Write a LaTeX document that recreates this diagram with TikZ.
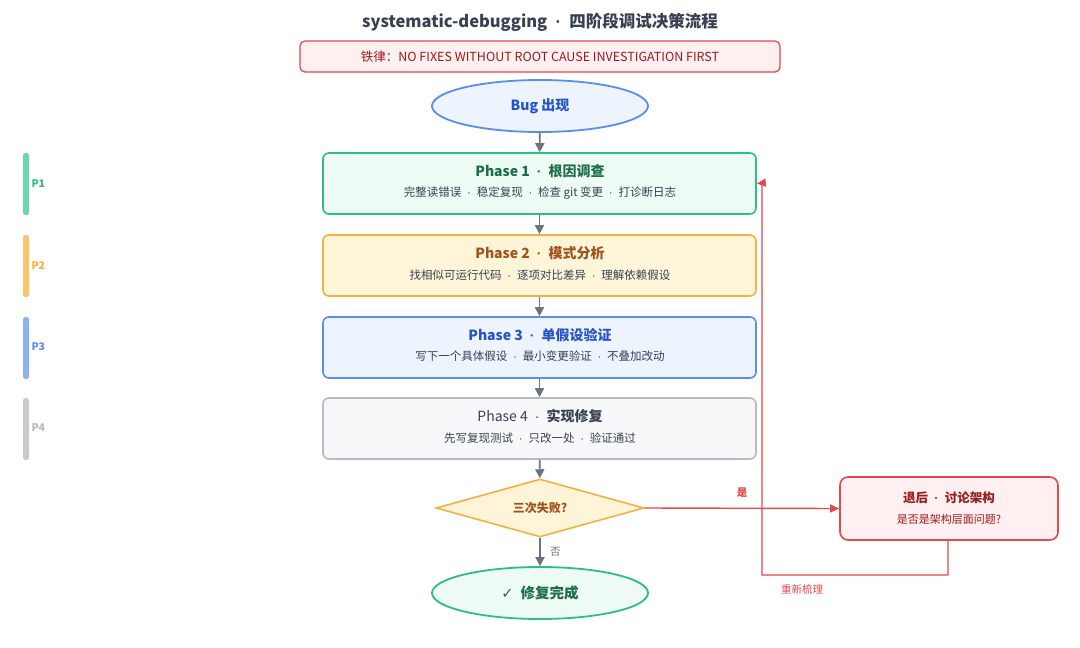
\documentclass[tikz,border=0pt]{standalone}
\usepackage{fontspec}
\setmainfont{Noto Sans CJK SC}
\newfontfamily\latf{Liberation Sans}
\newcommand{\md}{{\latf\enspace·\enspace}}
\usetikzlibrary{shapes.geometric,arrows.meta}
\definecolor{gborder}{HTML}{2EBD85}\definecolor{gfill}{HTML}{EEFBF4}\definecolor{gtext}{HTML}{1B6E4A}
\definecolor{oborder}{HTML}{F5B041}\definecolor{ofill}{HTML}{FEF5D9}\definecolor{otext}{HTML}{A0521B}
\definecolor{bborder}{HTML}{5B8DEF}\definecolor{bfill}{HTML}{EEF4FE}\definecolor{btext}{HTML}{2553C9}
\definecolor{kborder}{HTML}{B8BBC2}\definecolor{kfill}{HTML}{F8F8FA}\definecolor{ktext}{HTML}{374151}
\definecolor{rborder}{HTML}{E5484D}\definecolor{rfill}{HTML}{FEEFF0}\definecolor{rtext}{HTML}{9B1C1C}
\definecolor{gbar}{HTML}{6DD6AA}\definecolor{obar}{HTML}{F9C470}\definecolor{bbar}{HTML}{8AB0F5}\definecolor{kbar}{HTML}{C8CACE}
\definecolor{arr}{HTML}{6B7280}
\begin{document}
\begin{tikzpicture}[x=1pt,y=-1pt,
  phase/.style={draw=#1border,fill=#1fill,line width=1.6pt,rounded corners=6pt,minimum width=433pt,minimum height=61pt},
  ttl/.style={font=\fontsize{14}{16}\selectfont\bfseries},
  sub/.style={font=\fontsize{11.5}{14}\selectfont,text=ktext},
  ar/.style={draw=arr,line width=1.7pt,-{Triangle[length=9pt,width=9pt]}},
  ra/.style={draw=rborder,line width=1.4pt},
  bar/.style={fill=#1bar,rounded corners=2.5pt,draw=none},
  lbl/.style={font=\fontsize{10.5}{12}\selectfont\bfseries,text=#1border}]
\useasboundingbox[fill=white] (0,0) rectangle (1080,648);
\node[font=\fontsize{16.5}{18}\selectfont\bfseries,text=ktext] (title) at (540,22) {systematic-debugging\md 四阶段调试决策流程};
\node[draw=rborder,fill=rfill,line width=1.3pt,rounded corners=5pt,minimum width=480pt,minimum height=31pt,font=\fontsize{12.5}{14}\selectfont,text=rtext] (law) at (540,56.5) {铁律：NO FIXES WITHOUT ROOT CAUSE INVESTIGATION FIRST};
\node[ellipse,draw=bborder,fill=bfill,line width=1.8pt,minimum width=216pt,minimum height=52pt,font=\fontsize{14}{16}\selectfont\bfseries,text=btext] (bug) at (540,106) {Bug 出现};
\node[phase=g] (p1) at (539.5,183.5) {};
\node[ttl,text=gtext] at (540,171) {Phase 1\md 根因调查};
\node[sub] at (540,193) {完整读错误\md 稳定复现\md 检查 git 变更\md 打诊断日志};
\node[phase=o] (p2) at (539.5,265.5) {};
\node[ttl,text=otext] at (540,253) {Phase 2\md 模式分析};
\node[sub] at (540,275) {找相似可运行代码\md 逐项对比差异\md 理解依赖假设};
\node[phase=b] (p3) at (539.5,347.5) {};
\node[ttl,text=btext] at (540,335) {Phase 3\md 单假设验证};
\node[sub] at (540,356) {写下一个具体假设\md 最小变更验证\md 不叠加改动};
\node[phase=k] (p4) at (539.5,428.5) {};
\node[ttl,text=ktext,font=\fontsize{14}{16}\selectfont] at (540,416) {Phase 4\md \textbf{实现修复}};
\node[sub] at (540,438) {先写复现测试\md 只改一处\md 验证通过};
\node[diamond,aspect=3.6,draw=oborder,fill=ofill,line width=1.6pt,minimum width=208pt,minimum height=58pt,inner sep=0pt,font=\fontsize{12}{14}\selectfont\bfseries,text=otext] (dec) at (540,508) {三次失败?};
\node[ellipse,draw=gborder,fill=gfill,line width=1.8pt,minimum width=216pt,minimum height=52pt,font=\fontsize{14.5}{16}\selectfont\bfseries,text=gtext] (done) at (540,593) {\fontspec{DejaVu Sans}✓\enspace\fontspec{Noto Sans CJK SC}修复完成};
\node[draw=rborder,fill=rfill,line width=1.6pt,rounded corners=8pt,minimum width=218pt,minimum height=63pt] (back) at (949,508.5) {};
\node[font=\fontsize{12.5}{14}\selectfont\bfseries,text=rtext] at (949,498) {退后\md 讨论架构};
\node[font=\fontsize{11}{13}\selectfont,text=rtext] at (949,519) {是否是架构层面问题?};
\draw[ar] (bug) -- (p1);
\draw[ar] (p1) -- (p2);
\draw[ar] (p2) -- (p3);
\draw[ar] (p3) -- (p4);
\draw[ar] (p4) -- (dec);
\draw[ar] (dec) -- node[right=6pt,font=\fontsize{10.5}{12}\selectfont,text=arr]{否} (done);
\draw[ra,-{Triangle[length=9pt,width=8pt]}] (dec.east) -- node[pos=0.5,above=7pt,font=\fontsize{10.5}{12}\selectfont\bfseries,text=rborder]{是} (back.west);
\coordinate (c1) at (948,575);
\coordinate (c2) at (762,575);
\coordinate (c3) at (762,183);
\draw[ra,-{Triangle[length=9pt,width=8pt]}] (back.south -| c1) -- (c1) -- (c2) -- (c3) -- (p1.east);
\node[font=\fontsize{10.5}{12}\selectfont,text=rborder] (rl) at (802,589) {重新梳理};
\fill[bar=g] (23,153) rectangle (29,215);
\fill[bar=o] (23,235) rectangle (29,297);
\fill[bar=b] (23,317) rectangle (29,379);
\fill[bar=k] (23,398) rectangle (29,460);
\node[lbl=g,anchor=west] at (28,184) {P1};
\node[lbl=o,anchor=west] at (28,266) {P2};
\node[lbl=b,anchor=west] at (28,347) {P3};
\node[lbl=k,anchor=west] at (28,428) {P4};
\end{tikzpicture}
\end{document}
